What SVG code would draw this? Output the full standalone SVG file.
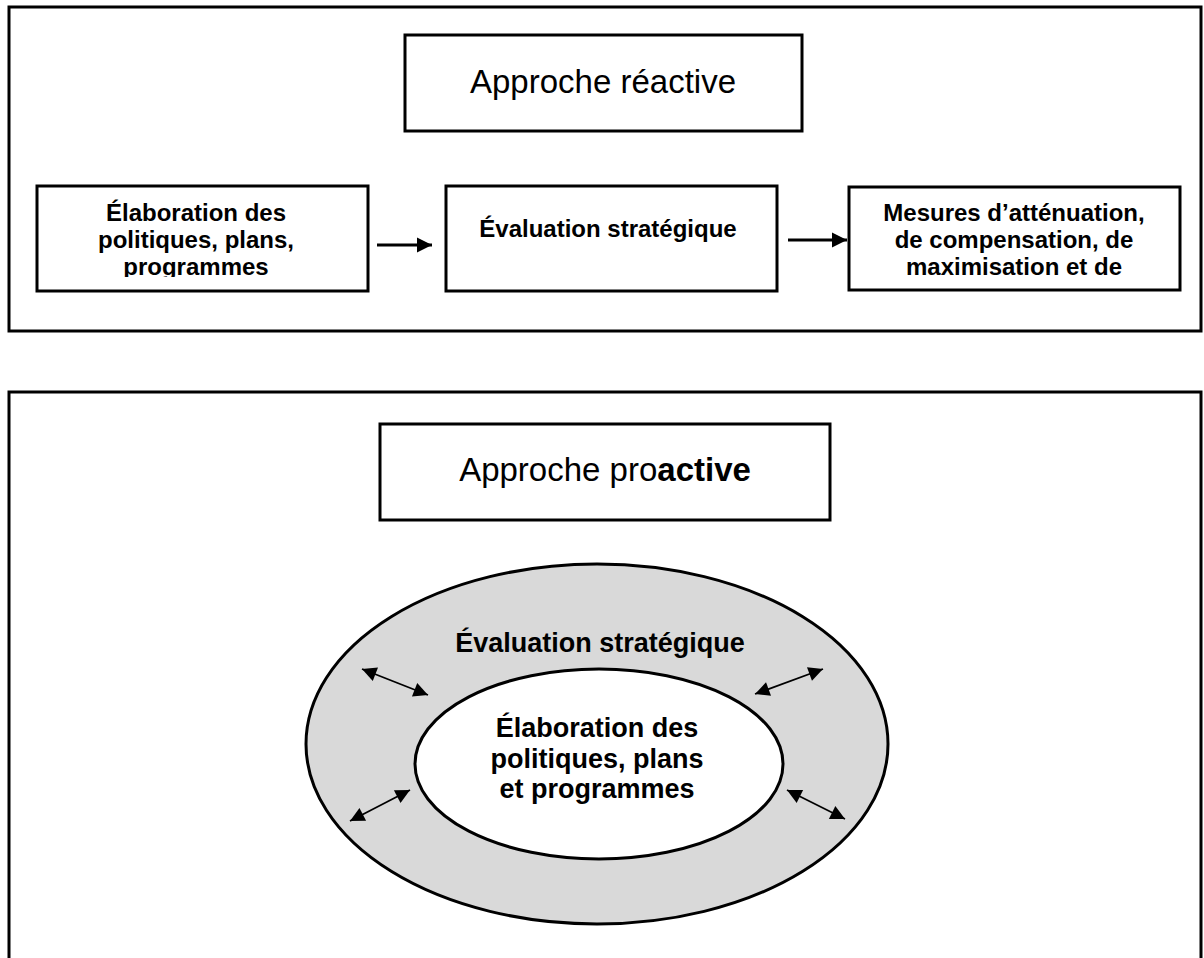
<svg xmlns="http://www.w3.org/2000/svg" width="1204" height="958" viewBox="0 0 1204 958">
<style>
text{font-family:"Liberation Sans",Arial,sans-serif;fill:#000}
.title{font-size:33px;text-anchor:middle}
.b{font-weight:bold;text-anchor:middle}
.f{font-size:24px}
.e{font-size:27px}
.box{fill:#fff;stroke:#000;stroke-width:3}
.frame{fill:none;stroke:#000;stroke-width:3}
.thick{stroke:#000;stroke-width:3;fill:none}
.thin{stroke:#000;stroke-width:1.8;fill:none}
</style>
<defs>
<marker id="ah" viewBox="0 0 10 10" refX="10" refY="5" markerWidth="5" markerHeight="5.5" markerUnits="strokeWidth" orient="auto"><path d="M0,0 L10,5 L0,10 Z" fill="#000"/></marker>
<marker id="dh" viewBox="0 0 10 10" refX="10" refY="5" markerWidth="9" markerHeight="8" markerUnits="strokeWidth" orient="auto-start-reverse"><path d="M0,0 L10,5 L0,10 Z" fill="#000"/></marker>
<clipPath id="c1"><rect x="37" y="186" width="331" height="91"/></clipPath>
</defs>
<rect width="1204" height="958" fill="#fff"/>
<g id="frame-reactive"><rect class="frame" x="9" y="7" width="1192" height="324"/></g>
<g id="frame-proactive"><rect class="frame" x="9" y="392" width="1192" height="600"/></g>

<g id="title-reactive"><rect class="box" x="405" y="35" width="397" height="96"/><text class="title" x="603" y="93">Approche réactive</text></g>

<g id="node-elaboration"><rect class="box" x="37" y="186" width="331" height="105"/>
<g clip-path="url(#c1)"><text class="b f" x="196" y="221">Élaboration des</text><text class="b f" x="196" y="248">politiques, plans,</text><text class="b f" x="196" y="275">programmes</text></g></g>

<g id="node-evaluation"><rect class="box" x="446" y="186" width="331" height="105"/><text class="b f" x="608" y="237">Évaluation stratégique</text></g>

<g id="node-mesures"><rect class="box" x="849" y="187" width="331" height="103"/>
<text class="b f" x="1014" y="221">Mesures d’atténuation,</text><text class="b f" x="1014" y="248">de compensation, de</text><text class="b f" x="1014" y="275">maximisation et de</text></g>

<g id="title-proactive"><rect class="box" x="380" y="424" width="450" height="96"/><text class="title" x="605" y="481">Approche pro<tspan font-weight="bold">active</tspan></text></g>

<g id="node-evaluation-ring"><ellipse cx="597" cy="744" rx="291" ry="180" fill="#d9d9d9" stroke="#000" stroke-width="3"/><text class="b e" x="600" y="652">Évaluation stratégique</text></g>

<g id="node-elaboration-core"><ellipse cx="599" cy="764" rx="184" ry="95" fill="#fff" stroke="#000" stroke-width="3"/>
<text class="b e" x="597" y="737">Élaboration des</text><text class="b e" x="597" y="768">politiques, plans</text><text class="b e" x="597" y="798">et programmes</text></g>

<g id="connectors">
<line class="thick" x1="377" y1="245" x2="432" y2="245" marker-end="url(#ah)"/>
<line class="thick" x1="788" y1="240" x2="847" y2="240" marker-end="url(#ah)"/>
<line class="thin" x1="362" y1="669" x2="428" y2="695" marker-start="url(#dh)" marker-end="url(#dh)"/>
<line class="thin" x1="755" y1="694" x2="823" y2="669" marker-start="url(#dh)" marker-end="url(#dh)"/>
<line class="thin" x1="410" y1="790" x2="350" y2="821" marker-start="url(#dh)" marker-end="url(#dh)"/>
<line class="thin" x1="787" y1="790" x2="845" y2="819" marker-start="url(#dh)" marker-end="url(#dh)"/>
</g>
</svg>
